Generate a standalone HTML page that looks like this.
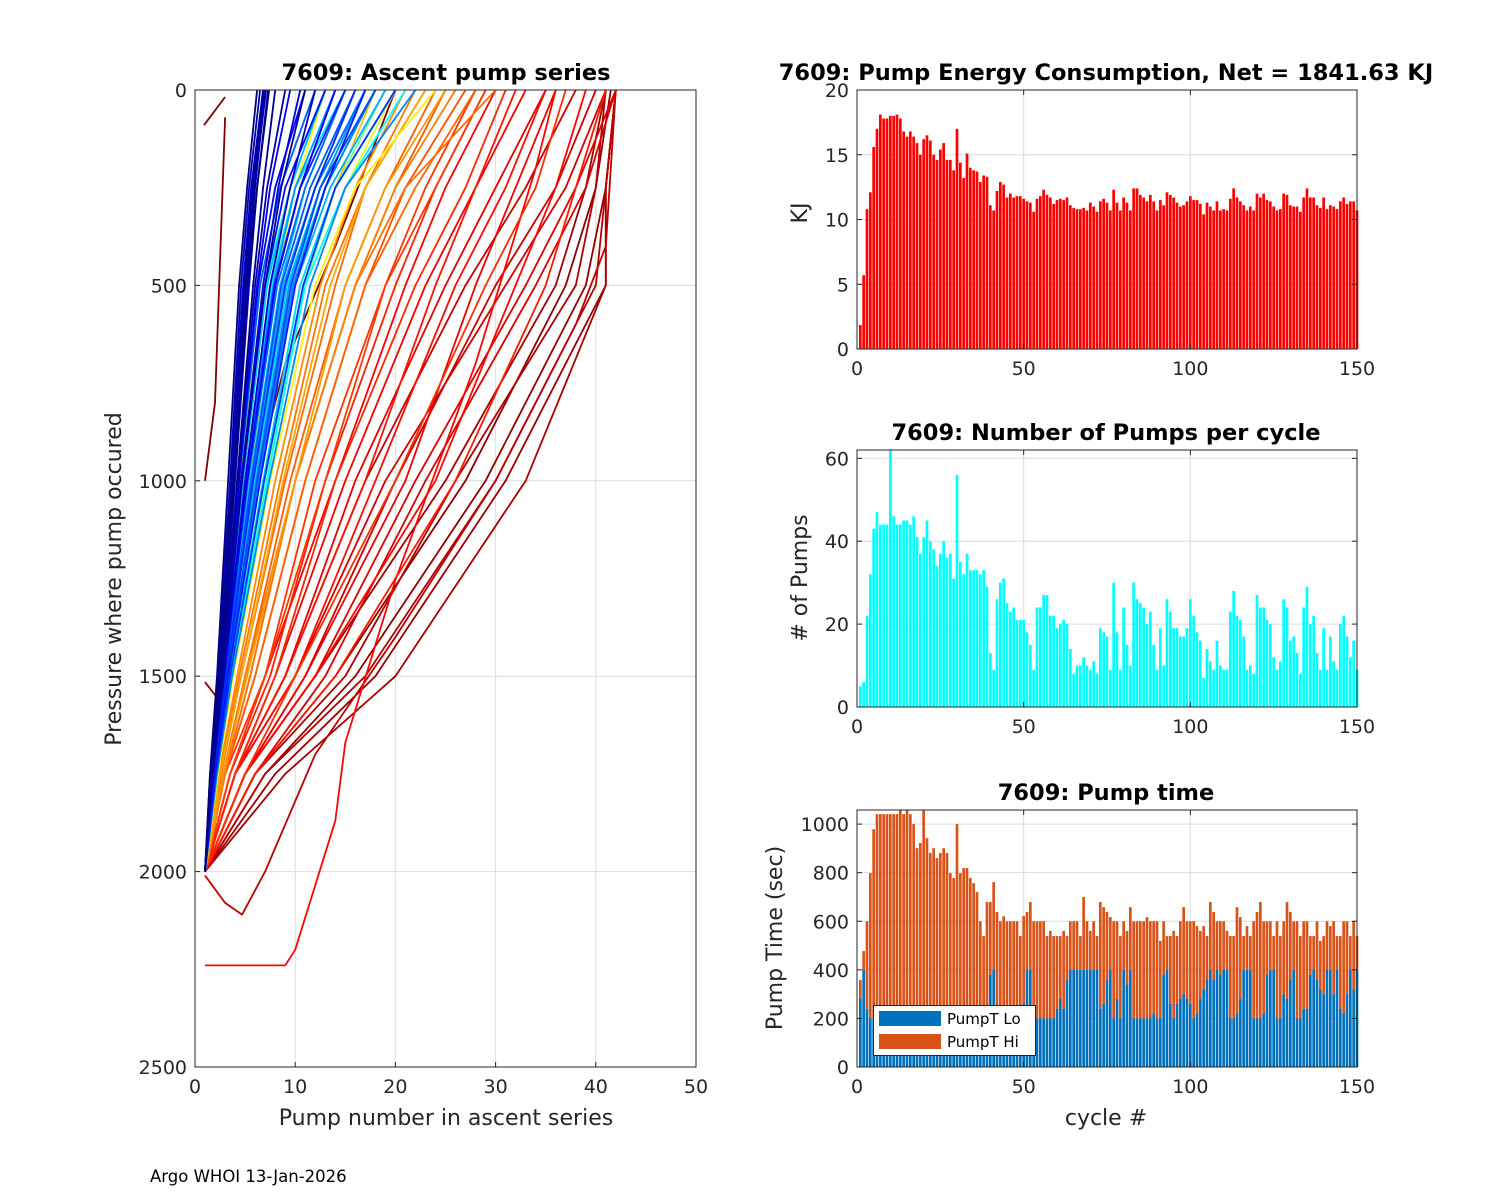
<!DOCTYPE html>
<html><head><meta charset="utf-8"><style>
html,body{margin:0;padding:0;background:#fff;}
svg{display:block;font-family:"DejaVu Sans","Liberation Sans",sans-serif;}
</style></head><body>
<svg id="fig" width="1500" height="1200" viewBox="0 0 1500 1200" xmlns="http://www.w3.org/2000/svg">
<rect width="1500" height="1200" fill="#fff"/>
<text x="150" y="1182" font-size="16.5" fill="#000">Argo WHOI 13-Jan-2026</text>
</svg>
<script>
// ---------- data: energy (KJ) per cycle ----------
const energyKJ=[1.85,5.7,10.8,12.1,15.6,17,18.1,17.8,17.8,18,18,18.1,17.8,16.8,16.4,16.8,16.4,15.9,15,16.2,16.5,16.1,15,14.6,15.4,15.9,14.6,14.6,13.8,17,14.4,13.2,15.1,14,13.8,13.7,12.9,13.4,13.3,11.1,10.7,12.2,12.9,12.7,11.7,12,11.7,11.8,11.8,11.6,11.4,11.3,10.6,11.6,11.8,12.3,11.9,11.7,11.2,11.5,11.6,11.5,11.7,11.1,10.9,10.8,10.8,10.9,10.7,11.3,11,10.6,11.4,11.6,11.3,10.7,12.3,11.3,10.7,11.7,11.3,10.7,12.4,12.4,11.9,11.7,11.4,11.9,11.4,10.7,11.5,11.1,12.1,11.9,11.7,11.3,11,11.1,11.4,11.8,11.5,11.5,11.2,10.4,11.3,11,10.7,11.4,10.7,10.8,10.7,11.6,12.4,11.7,11.4,11.1,10.7,11,10.7,12,11.7,12,11.5,11.4,11,10.7,10.8,12,11.9,11.1,11,11,10.6,11.7,12.4,11.7,11.7,11.1,10.9,11.7,10.8,11.1,11,10.8,11.4,11.7,11.2,11.4,11.4,10.7];
// ---------- data: number of pumps per cycle ----------
const pumpCount=[5,6,22,32,43,47,44,44,44,62,46,44,44,45,45,44,46,41,37,41,45,40,38,34,37,40,36,37,31,56,35,32,37,33,33,33,32,33,29,13,9,26,30,31,25,23,24,21,21,21,18,15,9,24,24,27,27,22,22,19,20,21,20,14,8,10,10,12,10,9,11,8,19,18,17,9,30,18,9,24,15,10,30,26,25,24,20,23,15,9,19,10,26,23,19,19,17,17,19,26,22,18,16,7,14,11,9,16,10,9,9,23,28,22,21,17,9,10,8,27,24,24,21,20,12,9,11,26,24,16,17,13,8,24,29,20,22,13,9,19,9,17,11,9,20,22,17,12,16,9];
// ---------- data: pump time total (Lo+Hi) and Lo portion (sec) ----------
const pumpTotal=[358,477,600,798,979,1041,1041,1041,1041,1041,1041,1041,1058,1041,1058,1041,1000,901,922,1058,942,881,901,860,881,901,881,798,778,1000,798,819,819,778,757,720,600,539,679,679,761,638,600,621,600,600,600,600,539,621,638,679,600,600,600,600,539,560,539,539,539,560,539,600,600,600,539,700,600,560,600,539,679,658,638,617,600,600,539,600,560,658,600,600,600,600,617,600,600,600,519,600,539,539,560,539,600,658,600,600,600,580,560,580,539,679,638,600,600,600,560,539,539,658,617,539,580,539,600,638,679,600,600,600,539,600,539,600,679,638,600,600,539,600,600,539,539,600,519,539,600,580,600,539,539,600,600,539,600,539];
const pumpLo=[280,400,240,200,200,200,200,200,200,200,200,200,200,200,200,200,200,200,200,200,200,200,200,200,200,200,200,200,200,200,200,200,200,200,200,200,200,200,200,380,400,200,200,200,200,200,200,200,200,260,400,400,200,200,200,200,200,200,200,240,280,240,360,400,400,400,400,400,400,400,400,400,240,260,360,400,200,280,200,400,340,400,200,200,200,200,200,200,220,200,200,380,400,260,200,260,280,300,280,260,200,220,280,320,360,400,360,400,380,400,400,200,200,220,280,400,400,400,200,200,200,220,380,400,400,200,200,300,280,360,400,200,200,240,240,380,400,360,320,300,400,400,300,400,240,220,300,400,320,400];
const cycleTicks=[0,50,100,150];
const energyTicks=[0,5,10,15,20];
const countTicks=[0,20,40,60];
const timeTicks=[0,200,400,600,800,1000];
// ---------- data: ascent profiles (pump number at pressure levels) ----------
const pressureLevels=[2000,1750,1500,1000,500,250,0];
const profileCycles=[3,4,5,6,7,8,9,11,12,13,14,15,16,17,18,19,20,21,22,23,24,25,26,27,28,31,32,33,34,35,36,37,38,40,42,44,48,52,55,58,62,66,70,75,78,82,86,90,94,96,98,99,100,101,103,104,106,107,109,110,112,113,115,116,118,119,121,122,124,125,127,128,130,131,132,133,134,135,136,137,138,139,140,141,142,143,144,145,146,147,148,149,150];
const profilePumps=[
[1,6,14,27,37,40,41.5],[1,7,16,29,39,41,42],[1,8,18,31,41,41,42],[1,5,12,25,36,39,41],[1,9,20,33,41,41,42],[1,6,15,26,38,40,41],[1,7,17,30,40,41,42],
[1,4,9,17,27,33,38],[1,5,11,20,30,36,40],[1,4,10,19,31,37,41],[1,6,13,23,34,39,42],[1,5,12,22,33,38,42],[1,4,9,16,25,30,35],[1,5,11,21,28,32,36],[1,4,8,15,23,28,33],[1,3.5,7,14,21,25,30],[1,5,12,24,32,36,39],[1,4,10,18,26,31,35],[1,4,9,17,24,28,32],[1,6,14,26,35,38,41],[1,3.5,7.5,13,20,24,29],[1,4,8,14,22,27,31],[1,5,10,20,29,34,37],[1,3,7,12,19,23,28],[1,3.5,7,13,19,24,29],
[1,3,6,11,17,21,27],[1,3,5.5,10,16,20,25],[1,2.8,5,9.5,15,19,24],[1,3,6,11,17,22,28],[1,2.6,4.6,9,14,17,23],[1,3,5.5,10,16,21,30],[1,2.5,4.4,8.5,13,17,22],[1,3,5,10,16,20,26],[1,2.4,4.2,8,12.5,16,21],[1,2.8,5.2,10,15,19,25],[1,2.5,4.6,8.8,13.5,17,23],
[1,2.2,3.5,7,11,14,18],[1,2,3.2,6,9,12,16],[1,2.3,3.8,7.5,12,16,24],[1,2,3,5.5,8,10,13],[1,2.2,3.6,7,11,15,20],[1,1.9,2.8,4.5,6.5,8.5,12],[1,2.1,3.4,6.5,10,13,17],
[1,2,3.2,6,9.5,13,17],[1,2.1,3.5,7,11,14,19],[1,1.9,2.9,5,7.5,10,14],[1,2,3.3,6.5,10,13,18],[1,1.8,2.7,4.6,7,9.5,13],[1,2.2,3.6,7.2,11,15,21],
[1,1.9,3,5.6,8.8,12,17],[1,2,3.2,6,9.5,13,18],[1,1.8,2.8,5,7.6,10,15],[1,2.1,3.4,6.8,10.5,14,20],[1,1.9,3.1,5.9,9.2,12.5,18],[1,1.9,3,5.5,8.5,11,15],[1,1.8,2.7,4.8,7.2,9.5,13],[1,2,3.3,6.4,10,13.5,19],[1,1.9,3,5.7,8.8,12,16],[1,1.8,2.8,5,7.8,10,14],[1,2,3.2,6.1,9.4,12.5,17],[1,2.2,3.7,7.4,11.5,15,22],[1,2,3.3,6.3,9.8,13,18],[1,1.9,3.1,5.8,9,12,17],[1,1.8,2.9,5.3,8.2,11,15],[1,1.7,2.6,4.4,6.5,8.5,12],[1,1.9,3,5.6,8.6,11.5,16],[1,2,3.2,6.2,9.6,12.5,18],[1,1.8,2.8,5.1,7.9,10.5,14],[1,2.1,3.5,6.9,10.8,14,20],[1,1.9,3.1,5.8,9,12,16],[1,1.8,2.9,5.2,8,10.5,15],[1,2,3.3,6.5,10,13,17],[1,1.7,2.7,4.6,7,9,13],[1,1.8,2.9,5.2,8,10.5,14],[1,1.7,2.6,4.3,6.3,8,11],
[1,1.6,2.5,3.8,5,5.8,7],[1,1.7,2.7,4.4,6.2,7.5,9.5],[1,1.6,2.4,3.7,4.9,5.7,6.9],[1,1.6,2.4,3.6,4.8,5.6,6.8],[1,1.7,2.8,4.6,6.8,8.3,10.5],[1,1.6,2.5,3.9,5.1,5.9,7],[1,1.7,2.6,4,5.4,6.2,7.3],[1,1.8,2.9,5,7.5,9.5,12],[1,1.6,2.4,3.7,5,5.8,6.9],[1,1.5,2.3,3.5,4.6,5.4,6.5],[1,1.7,2.7,4.3,6,7.2,9],[1,1.6,2.5,3.8,5.1,5.9,7.1],[1,1.6,2.5,3.9,5.2,6,7],[1,1.7,2.8,4.7,7,8.6,11],[1,1.6,2.4,3.7,4.9,5.7,6.8],[1,1.7,2.7,4.2,5.8,6.8,8],[1,1.6,2.5,3.9,5.3,6.2,7.4],[1,1.5,2.2,3.3,4.4,5.2,6.2]];
// special irregular profiles: pump numbers and pressures
const specialCycles=[1,1,2,10,20];
const specialPumps=[[1,2,3],[0.9,3],[1,2,2.7,4,6,9,14,20],[1,3,4.7,7,12,20,30,38,41,42],[1,9,10,14,15,20,28,34,36]];
const specialPress=[[1000,800,70],[90,18],[1515,1548,1528,1300,1000,700,400,0],[2010,2080,2110,2000,1700,1400,1000,600,400,0],[2240,2240,2200,1870,1670,1254,700,200,0]];

const NS='http://www.w3.org/2000/svg';
const svg=document.getElementById('fig');
function el(tag,attrs,parent){const e=document.createElementNS(NS,tag);for(const k in attrs)e.setAttribute(k,attrs[k]);(parent||svg).appendChild(e);return e;}
function txt(x,y,s,attrs,parent){const t=el('text',Object.assign({x:x,y:y,fill:'#262626','font-size':19},attrs),parent);t.textContent=s;return t;}
function jet(v){v=Math.max(0,Math.min(1,v));const r=Math.max(0,Math.min(1,1.5-Math.abs(4*v-3))),g=Math.max(0,Math.min(1,1.5-Math.abs(4*v-2))),b=Math.max(0,Math.min(1,1.5-Math.abs(4*v-1)));return 'rgb('+Math.round(r*255)+','+Math.round(g*255)+','+Math.round(b*255)+')';}

// ---------- left chart ----------
const L={x0:195,x1:696,y0:90,y1:1067};
const lx=n=>L.x0+n/50*(L.x1-L.x0);
const ly=p=>L.y0+p/2500*(L.y1-L.y0);
const gL=el('g',{});


for(let n=10;n<50;n+=10){const g=el('line',{x1:lx(n),x2:lx(n),y1:L.y0,y2:L.y1,stroke:'#dcdcdc','stroke-width':1},gL);}
for(let p=500;p<2500;p+=500){const g=el('line',{x1:L.x0,x2:L.x1,y1:ly(p),y2:ly(p),stroke:'#dcdcdc','stroke-width':1},gL);}
const colorFor=c=>jet(1-(c-1)/149);
const drawProfile=(xs,ps,c)=>{let d='';for(let i=0;i<xs.length;i++)d+=(i?'L':'M')+lx(xs[i]).toFixed(1)+','+ly(ps[i]).toFixed(1);const pl=el('path',{d:d,fill:'none',stroke:colorFor(c),'stroke-width':1.8,'stroke-linejoin':'round'},gL);};
const items=[];
profileCycles.forEach((c,i)=>items.push({c:c,xs:profilePumps[i],ps:pressureLevels}));
specialCycles.forEach((c,i)=>items.push({c:c,xs:specialPumps[i],ps:specialPress[i]}));
items.sort((a,b)=>a.c-b.c).forEach(it=>drawProfile(it.xs,it.ps,it.c));
el('rect',{x:L.x0,y:L.y0,width:L.x1-L.x0,height:L.y1-L.y0,fill:'none',stroke:'#262626','stroke-width':1},gL);
[0,10,20,30,40,50].forEach(n=>{el('line',{x1:lx(n),x2:lx(n),y1:L.y1,y2:L.y1-5,stroke:'#262626'},gL);const t=txt(lx(n),L.y1+26,String(n),{'text-anchor':'middle'},gL);});
[0,500,1000,1500,2000,2500].forEach(p=>{el('line',{x1:L.x0,x2:L.x0+5,y1:ly(p),y2:ly(p),stroke:'#262626'},gL);const t=txt(L.x0-8,ly(p)+7,String(p),{'text-anchor':'end'},gL);});
let t=txt(446,80,'7609: Ascent pump series',{'text-anchor':'middle','font-weight':'bold','font-size':22.5,fill:'#000'},gL);
t=txt(446,1125,'Pump number in ascent series',{'text-anchor':'middle','font-size':22},gL);
t=txt(0,0,'Pressure where pump occured',{'text-anchor':'middle','font-size':22,transform:'translate(121,579) rotate(-90)'},gL);

// ---------- right bar charts ----------
const RX0=857,RX1=1357;
const cx=c=>RX0+c/150*(RX1-RX0);
const barW=2.7;
function axesFrame(g,top,bot,ymax,ticks,yt){
  cycleTicks.forEach(c=>{if(c>0&&c<150){const gl=el('line',{x1:cx(c),x2:cx(c),y1:top,y2:bot,stroke:'#dcdcdc'},g);}});
  ticks.forEach(v=>{if(v>0&&v<ymax){const gl=el('line',{x1:RX0,x2:RX1,y1:yt(v),y2:yt(v),stroke:'#dcdcdc'},g);}});
}
function axesTicks(g,top,bot,ticks,yt){
  el('rect',{x:RX0,y:top,width:RX1-RX0,height:bot-top,fill:'none',stroke:'#262626'},g);
  cycleTicks.forEach(c=>{el('line',{x1:cx(c),x2:cx(c),y1:bot,y2:bot-5,stroke:'#262626'},g);el('line',{x1:cx(c),x2:cx(c),y1:top,y2:top+5,stroke:'#262626'},g);const l=txt(cx(c),bot+26,String(c),{'text-anchor':'middle'},g);});
  ticks.forEach(v=>{el('line',{x1:RX0,x2:RX0+5,y1:yt(v),y2:yt(v),stroke:'#262626'},g);el('line',{x1:RX1,x2:RX1-5,y1:yt(v),y2:yt(v),stroke:'#262626'},g);const l=txt(RX0-8,yt(v)+7,String(v),{'text-anchor':'end'},g);});
}
// energy
const E={top:90,bot:349,max:20};
const ey=v=>E.bot-v/E.max*(E.bot-E.top);
const gE=el('g',{});


axesFrame(gE,E.top,E.bot,E.max,energyTicks,ey);
energyKJ.forEach((v,i)=>{const b=el('rect',{x:cx(i+1)-barW/2,y:ey(v),width:barW,height:E.bot-ey(v),fill:'#ff0000'},gE);});
axesTicks(gE,E.top,E.bot,energyTicks,ey);
t=txt(1106,80,'7609: Pump Energy Consumption,  Net = 1841.63 KJ',{'text-anchor':'middle','font-weight':'bold','font-size':22.5,fill:'#000','xml:space':'preserve'},gE);
t=txt(0,0,'KJ',{'text-anchor':'middle','font-size':22,transform:'translate(807,213) rotate(-90)'},gE);
// pump counts
const C={top:450,bot:707,max:62};
const cy=v=>C.bot-v/C.max*(C.bot-C.top);
const gC=el('g',{});


axesFrame(gC,C.top,C.bot,C.max,countTicks,cy);
pumpCount.forEach((v,i)=>{const b=el('rect',{x:cx(i+1)-barW/2,y:cy(v),width:barW,height:C.bot-cy(v),fill:'#00ffff'},gC);});
axesTicks(gC,C.top,C.bot,countTicks,cy);
t=txt(1106,440,'7609: Number of Pumps per cycle',{'text-anchor':'middle','font-weight':'bold','font-size':22.5,fill:'#000'},gC);
t=txt(0,0,'# of Pumps',{'text-anchor':'middle','font-size':22,transform:'translate(807,578) rotate(-90)'},gC);
// pump time
const T={top:810,bot:1067,max:1058};
const ty=v=>T.bot-v/T.max*(T.bot-T.top);
const gT=el('g',{});


axesFrame(gT,T.top,T.bot,T.max,timeTicks,ty);
pumpTotal.forEach((v,i)=>{const lo=pumpLo[i];const h=el('rect',{x:cx(i+1)-barW/2,y:ty(v),width:barW,height:ty(lo)-ty(v),fill:'#d95319'},gT);const b=el('rect',{x:cx(i+1)-barW/2,y:ty(lo),width:barW,height:T.bot-ty(lo),fill:'#0072bd'},gT);});
axesTicks(gT,T.top,T.bot,timeTicks,ty);
t=txt(1106,800,'7609: Pump time',{'text-anchor':'middle','font-weight':'bold','font-size':22.5,fill:'#000'},gT);
t=txt(0,0,'Pump Time (sec)',{'text-anchor':'middle','font-size':22,transform:'translate(782,938) rotate(-90)'},gT);
t=txt(1106,1125,'cycle #',{'text-anchor':'middle','font-size':22},gT);
const lg=el('g',{},gT);


el('rect',{x:873.5,y:1005.5,width:162,height:50,fill:'#fff',stroke:'#262626'},lg);
const le1=el('g',{},lg);


el('rect',{x:879,y:1011,width:62,height:15,fill:'#0072bd'},le1);txt(947,1024,'PumpT Lo',{'font-size':15,fill:'#000'},le1);
const le2=el('g',{},lg);


el('rect',{x:879,y:1034,width:62,height:15,fill:'#d95319'},le2);txt(947,1047,'PumpT Hi',{'font-size':15,fill:'#000'},le2);
</script>
</body></html>
